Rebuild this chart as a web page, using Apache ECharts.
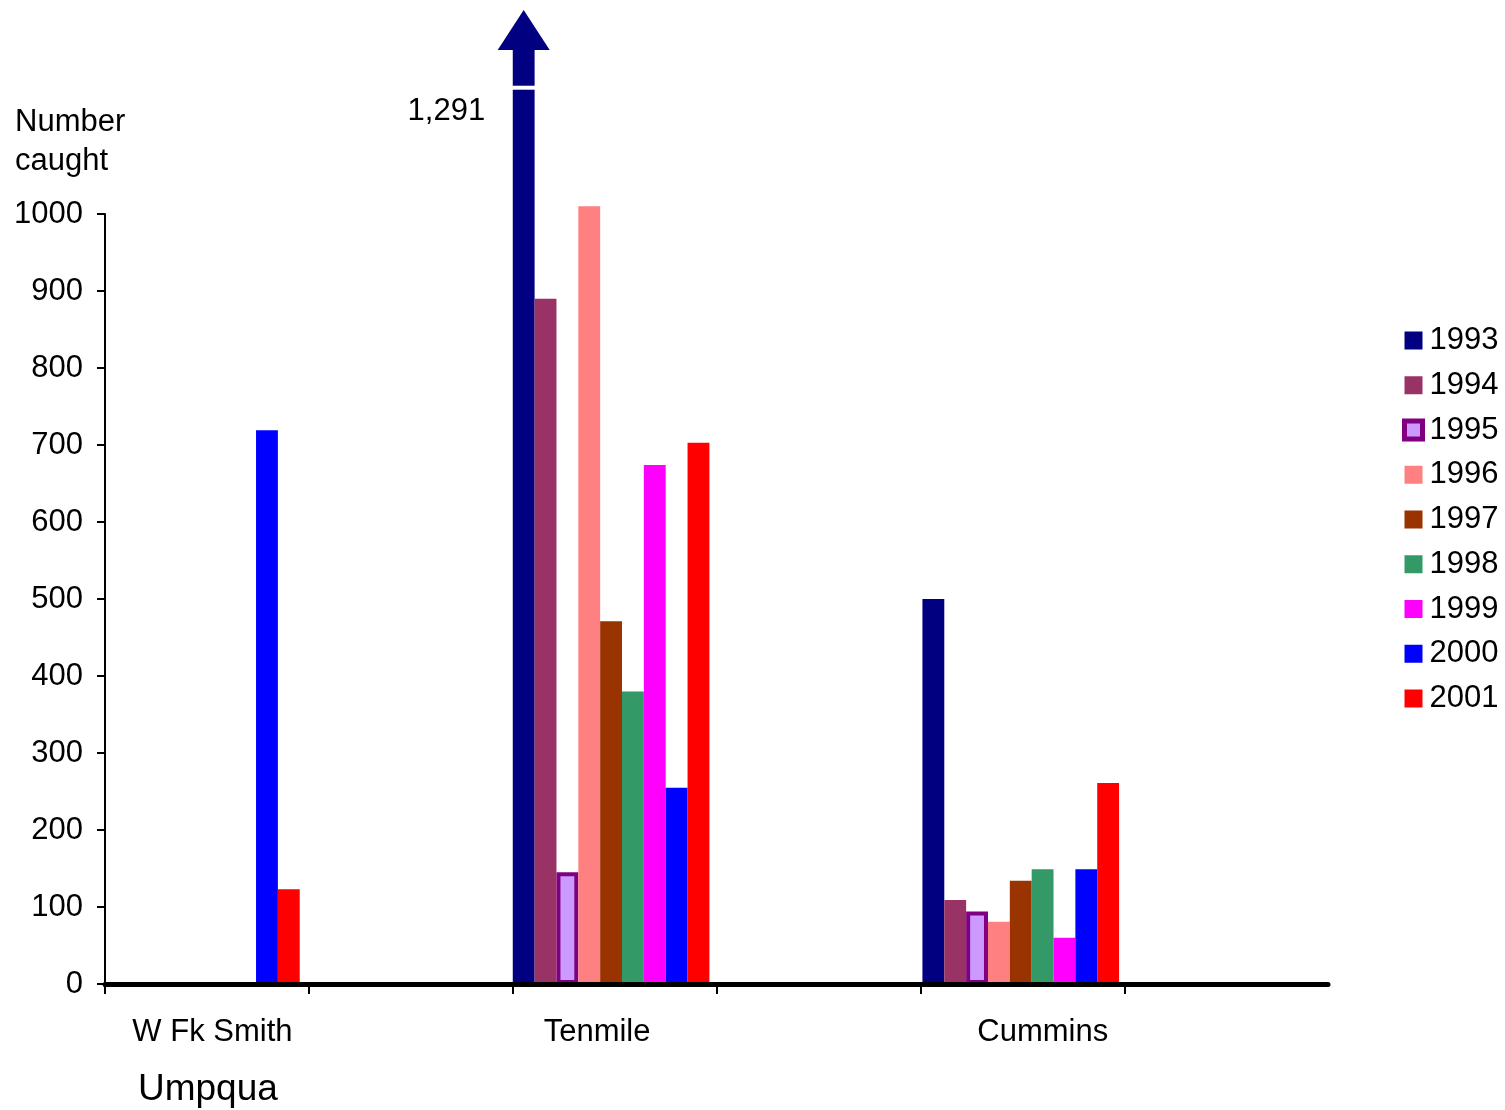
<!DOCTYPE html>
<html>
<head>
<meta charset="utf-8">
<script src="https://cdn.jsdelivr.net/npm/echarts@6/dist/echarts.min.js"></script>
<style>
html,body{margin:0;padding:0;background:#fff;}
#chart{width:1505px;height:1110px;}
</style>
</head>
<body>
<div id="chart"></div>
<script>
// ---- data ----
const years = ['1993','1994','1995','1996','1997','1998','1999','2000','2001'];
const sites = ['W Fk Smith', ' ', 'Tenmile', '  ', 'Cummins', '   '];
const wfkSmith = [null, null, null, null, null, null, null, 719, 123];
const tenmile  = [1291, 890, 145, 1010, 471, 380, 674, 255, 703];
const cummins  = [500, 109, 94, 81, 134, 149, 60, 149, 261];
const yTicks = [0, 100, 200, 300, 400, 500, 600, 700, 800, 900, 1000];
const colors = ['#000080','#993366','#CC99FF','#FF8080','#993300','#339966','#FF00FF','#0000FF','#FF0000'];

// ---- layout constants ----
const Y_MAX = 1000;
const GRID_TOP = 214, GRID_H = 770;
const PX = GRID_H / Y_MAX;          // pixels per unit
const BREAK_DRAW_TOP = 1213;        // where the broken bar's body stops
const BREAK_GAP_AT = 1164;          // white break line
const BREAK_LABEL_AT = 1133;        // "1,291" label height
const FONT = 'Liberation Sans, Arial, sans-serif';
const FS = 31;

const chart = echarts.init(document.getElementById('chart'), null, {renderer: 'canvas'});

const series = years.map((yr, i) => {
  const rows = [wfkSmith[i], null, tenmile[i], null, cummins[i], null];
  const data = rows.map(v => (v != null && v > BREAK_DRAW_TOP) ? {value: BREAK_DRAW_TOP, realValue: v} : v);
  const s = {
    name: yr,
    type: 'bar',
    xAxisIndex: 0,
    yAxisIndex: 0,
    clip: false,
    barGap: '0%',
    barCategoryGap: '4%',
    data: data,
    itemStyle: {color: colors[i]}
  };
  if (yr === '1995') {
    s.itemStyle = {color: '#CC99FF', borderColor: '#800080', borderWidth: 4};
  }
  const broken = rows.findIndex(v => v != null && v > BREAK_DRAW_TOP);
  if (broken >= 0) {
    const site = sites[broken];
    const real = rows[broken];
    s.markPoint = {
      silent: true,
      animation: false,
      data: [
        {coord: [site, Y_MAX], symbol: 'triangle', symbolSize: [52, 40],
         symbolOffset: [0, -(BREAK_DRAW_TOP - Y_MAX) * PX - 20],
         itemStyle: {color: colors[i]}, label: {show: false}},
        {coord: [site, Y_MAX], symbol: 'rect', symbolSize: [30, 4],
         symbolOffset: [0, -(BREAK_GAP_AT - Y_MAX) * PX],
         itemStyle: {color: '#ffffff'}, label: {show: false}},
        {coord: [site, Y_MAX], symbol: 'rect', symbolSize: 1,
         symbolOffset: [0, -(BREAK_LABEL_AT - Y_MAX) * PX],
         itemStyle: {color: 'rgba(0,0,0,0)'},
         label: {show: true, position: 'left', distance: 38,
                 formatter: real.toLocaleString('en-US'),
                 color: '#000', fontSize: FS, fontFamily: FONT}}
      ]
    };
  }
  return s;
});

const option = {
  backgroundColor: '#ffffff',
  animation: false,
  textStyle: {fontFamily: FONT},
  legend: {
    orient: 'vertical',
    left: 1402,
    top: 325,
    padding: 0,
    itemWidth: 18,
    itemHeight: 18,
    itemGap: 13.75,
    icon: 'rect',
    data: years.map(y => y === '1995'
      ? {name: y, itemStyle: {color: '#CC99FF', borderColor: '#800080', borderWidth: 5}}
      : y),
    textStyle: {fontSize: FS, color: '#000', fontFamily: FONT, lineHeight: 30, padding: [0,0,0,2]}
  },
  grid: [
    {left: 99, top: GRID_TOP, width: 1229, height: GRID_H},
    {left: 105, top: GRID_TOP, width: 1020, height: GRID_H},
    {left: 105, top: GRID_TOP, width: 1223, height: GRID_H}
  ],
  xAxis: [
    {
      type: 'category', gridIndex: 0,
      data: sites.map((s, k) => {
        if (k === 0) return {value: s, textStyle: {padding: [0, 0, 0, 22]}};
        if (k === 2) return {value: s, textStyle: {padding: [0, 28, 0, 0]}};
        if (k === 4) return {value: s, textStyle: {padding: [0, 0, 0, 44]}};
        return s;
      }),
      axisLine: {show: false},
      axisTick: {show: false},
      axisLabel: {show: true, interval: 0, margin: 33, fontSize: FS, color: '#000', fontFamily: FONT},
      splitLine: {show: false}
    },
    {
      type: 'category', gridIndex: 1,
      data: ['a','b','c','d','e'],
      axisLine: {show: false},
      axisTick: {show: true, length: 10, lineStyle: {color: '#000', width: 2}},
      axisLabel: {show: false},
      splitLine: {show: false}
    },
    {
      type: 'category', gridIndex: 2, z: 10,
      data: ['a'],
      axisLine: {show: true, lineStyle: {color: '#000', width: 5}},
      axisTick: {show: false},
      axisLabel: {show: false},
      splitLine: {show: false}
    }
  ],
  yAxis: [
    {
      type: 'value', gridIndex: 0, show: false, min: yTicks[0], max: yTicks[yTicks.length - 1]
    },
    {
      type: 'value', gridIndex: 1, min: yTicks[0], max: yTicks[yTicks.length - 1], interval: 100,
      axisLine: {show: true, lineStyle: {color: '#000', width: 2}},
      axisTick: {show: true, length: 8, lineStyle: {color: '#000', width: 2}},
      axisLabel: {fontSize: FS, color: '#000', margin: 22, fontFamily: FONT, formatter: v => String(v)},
      splitLine: {show: false}
    },
    {type: 'value', gridIndex: 2, show: false, min: 0, max: 1000}
  ],
  graphic: [
    {type: 'text', left: 15, top: 103,
     style: {text: 'Number\ncaught', fontSize: FS, lineHeight: 39, fill: '#000', fontFamily: FONT}},
    {type: 'text', left: 138, top: 1071,
     style: {text: 'Umpqua', fontSize: 37, fill: '#000', fontFamily: FONT}}
  ],
  series: series
};

chart.setOption(option);
</script>
</body>
</html>
